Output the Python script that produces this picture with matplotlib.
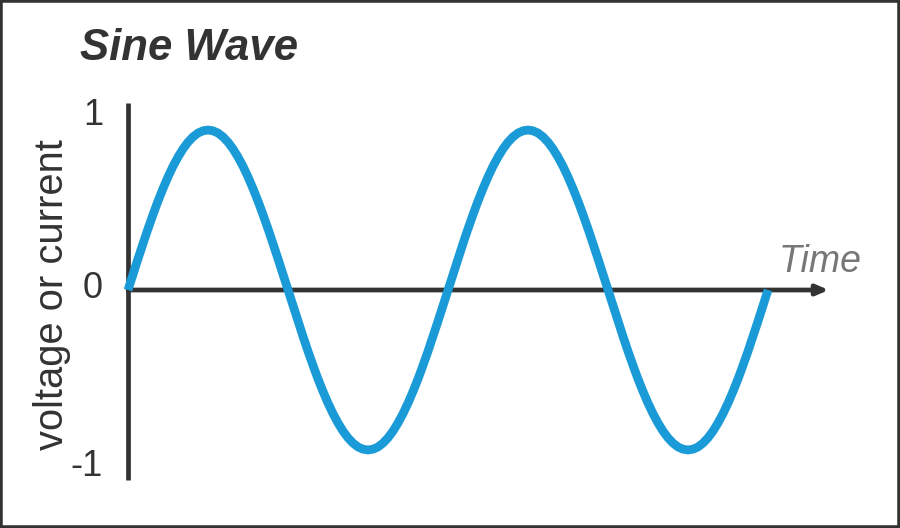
import matplotlib
matplotlib.use("Agg")
import matplotlib.pyplot as plt
from matplotlib.patches import Rectangle

plt.rcParams['font.family'] = ['Liberation Sans', 'DejaVu Sans']

# Data: time in cycles (1/64 cycle steps), signal values
time_cycles = [k / 64 for k in range(129)]
signal = [
    0.0, 0.098, 0.195, 0.290, 0.383, 0.471, 0.556, 0.634,
    0.707, 0.773, 0.831, 0.882, 0.924, 0.957, 0.981, 0.995,
    1.0, 0.995, 0.981, 0.957, 0.924, 0.882, 0.831, 0.773,
    0.707, 0.634, 0.556, 0.471, 0.383, 0.290, 0.195, 0.098,
    0.0, -0.098, -0.195, -0.290, -0.383, -0.471, -0.556, -0.634,
    -0.707, -0.773, -0.831, -0.882, -0.924, -0.957, -0.981, -0.995,
    -1.0, -0.995, -0.981, -0.957, -0.924, -0.882, -0.831, -0.773,
    -0.707, -0.634, -0.556, -0.471, -0.383, -0.290, -0.195, -0.098,
    0.0, 0.098, 0.195, 0.290, 0.383, 0.471, 0.556, 0.634,
    0.707, 0.773, 0.831, 0.882, 0.924, 0.957, 0.981, 0.995,
    1.0, 0.995, 0.981, 0.957, 0.924, 0.882, 0.831, 0.773,
    0.707, 0.634, 0.556, 0.471, 0.383, 0.290, 0.195, 0.098,
    0.0, -0.098, -0.195, -0.290, -0.383, -0.471, -0.556, -0.634,
    -0.707, -0.773, -0.831, -0.882, -0.924, -0.957, -0.981, -0.995,
    -1.0, -0.995, -0.981, -0.957, -0.924, -0.882, -0.831, -0.773,
    -0.707, -0.634, -0.556, -0.471, -0.383, -0.290, -0.195, -0.098,
    0.0,
]
ytick_labels = ["1", "0", "-1"]

title = "Sine Wave"
ylabel = "voltage or current"
xlabel = "Time"

dark = "#333333"
blue = "#1a9bd7"

fig = plt.figure(figsize=(9, 5.28), dpi=100)
ax = fig.add_axes([0, 0, 1, 1])
ax.set_xlim(-0.4, 2.4125)
ax.set_ylim(-1.4875, 1.8125)
ax.axis("off")

# curve
ax.plot(time_cycles, signal, color=blue, lw=6.3, solid_capstyle="butt",
        solid_joinstyle="round", zorder=3)

# y axis line
ax.plot([0, 0], [-1.1875, 1.169], color=dark, lw=3.4, solid_capstyle="butt", zorder=2)
# x axis arrow
ax.annotate("", xy=(2.19, 0), xytext=(0, 0),
            arrowprops=dict(arrowstyle="-|>,head_length=0.7,head_width=0.3",
                            lw=3.4, color=dark, shrinkA=0, shrinkB=0),
            zorder=2)

# tick labels (placed next to the axis ends, as in the reference)
tick_pos = [1.091, 0.0125, -1.106]
for v, lab in zip(tick_pos, ytick_labels):
    ax.text(-0.078, v, lab, ha="right", va="center", fontsize=26, color=dark)

# y label
ax.text(-0.2375, -0.031, ylabel, rotation=90, ha="center", va="center",
        fontsize=28.7, color=dark)
# x label
ax.text(2.1625, 0.175, xlabel, ha="center", va="center", fontsize=27,
        style="italic", color="#777777")

# title
fig.text(80 / 900, 1 - 48 / 528, title, ha="left", va="center",
         fontsize=31.5, fontweight="bold", style="italic", color=dark)

# border
fig.patches.append(Rectangle((0, 0), 1, 1, transform=fig.transFigure,
                             fill=False, lw=4, ec=dark))

fig.savefig("out.png", dpi=100)
